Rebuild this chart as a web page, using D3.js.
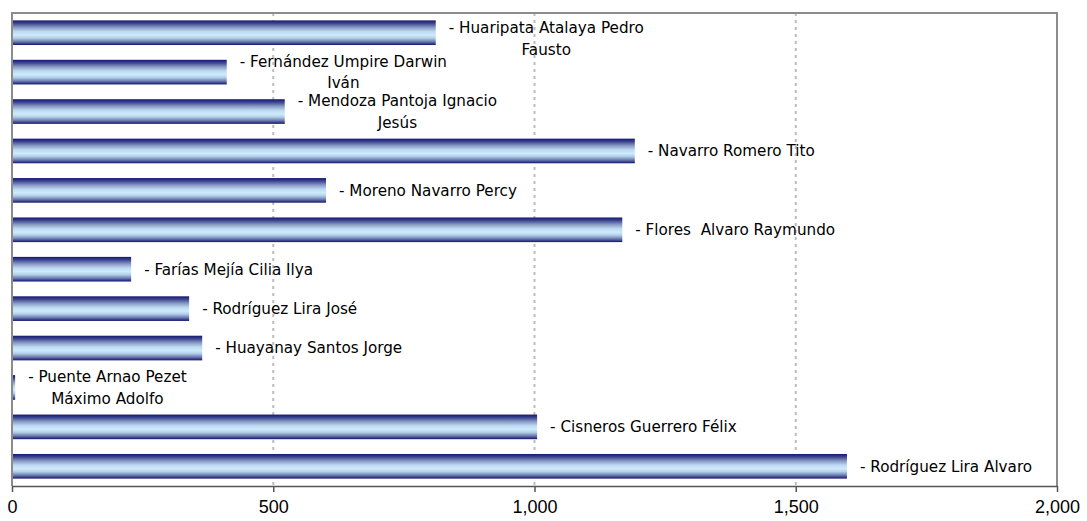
<!DOCTYPE html>
<html>
<head>
<meta charset="utf-8">
<script src="https://cdn.jsdelivr.net/npm/d3@7"></script>
<style>
  html, body { margin: 0; padding: 0; background: #ffffff; }
  svg { display: block; }
  .lbl { white-space: pre; }
</style>
</head>
<body>
<div id="chart"></div>
<script>
// ---- data ----
const categories = [
  "Huaripata Atalaya Pedro Fausto",
  "Fernández Umpire Darwin Iván",
  "Mendoza Pantoja Ignacio Jesús",
  "Navarro Romero Tito",
  "Moreno Navarro Percy",
  "Flores  Alvaro Raymundo",
  "Farías Mejía Cilia Ilya",
  "Rodríguez Lira José",
  "Huayanay Santos Jorge",
  "Puente Arnao Pezet Máximo Adolfo",
  "Cisneros Guerrero Félix",
  "Rodríguez Lira Alvaro"
];
const values = [811, 411, 522, 1192, 601, 1168, 228, 339, 364, 6, 1005, 1598];
const labelLines = [
  ["- Huaripata Atalaya Pedro", "Fausto"],
  ["- Fernández Umpire Darwin", "Iván"],
  ["- Mendoza Pantoja Ignacio", "Jesús"],
  ["- Navarro Romero Tito"],
  ["- Moreno Navarro Percy"],
  ["- Flores  Alvaro Raymundo"],
  ["- Farías Mejía Cilia Ilya"],
  ["- Rodríguez Lira José"],
  ["- Huayanay Santos Jorge"],
  ["- Puente Arnao Pezet", "Máximo Adolfo"],
  ["- Cisneros Guerrero Félix"],
  ["- Rodríguez Lira Alvaro"]
];
const xTicks = [0, 500, 1000, 1500, 2000];

// ---- layout ----
const W = 1087, H = 521;
const plot = { left: 12, top: 13, right: 1057, bottom: 486 };

const svg = d3.select("#chart").append("svg")
  .attr("width", W).attr("height", H);

const defs = svg.append("defs");
const grad = defs.append("linearGradient")
  .attr("id", "barGrad").attr("x1", 0).attr("y1", 0).attr("x2", 0).attr("y2", 1);
[
  [0, "#16166e"],
  [0.12, "#3a4590"],
  [0.28, "#8797c0"],
  [0.45, "#bcd9f2"],
  [0.6, "#cdebfc"],
  [0.72, "#b4cfe8"],
  [0.86, "#6d7fb2"],
  [1, "#141470"]
].forEach(([o, c]) => grad.append("stop").attr("offset", o).attr("stop-color", c));

const x = d3.scaleLinear().domain([0, 2000]).range([plot.left, plot.right]);
const y = d3.scaleBand().domain(categories)
  .range([plot.top, plot.bottom])
  .paddingInner(0.375).paddingOuter(0.1875);

// gridlines
svg.append("g").selectAll("line")
  .data(xTicks.filter(t => t > 0 && t < 2000))
  .join("line")
  .attr("x1", d => x(d)).attr("x2", d => x(d))
  .attr("y1", plot.top).attr("y2", plot.bottom)
  .attr("stroke", "#bdbdbd").attr("stroke-width", 2)
  .attr("stroke-dasharray", "3,4");

// bars
svg.append("g").selectAll("rect")
  .data(categories)
  .join("rect")
  .attr("x", x(0))
  .attr("y", d => y(d))
  .attr("width", (d, i) => x(values[i]) - x(0))
  .attr("height", y.bandwidth())
  .attr("fill", "url(#barGrad)");

// plot frame (top, right, left)
svg.append("path")
  .attr("d", `M${plot.left},${plot.bottom} V${plot.top} H${plot.right} V${plot.bottom}`)
  .attr("fill", "none").attr("stroke", "#8c8c8c").attr("stroke-width", 2);

// x axis
const xAxis = d3.axisBottom(x).tickValues(xTicks)
  .tickFormat(d3.format(",")).tickSizeInner(6).tickSizeOuter(0).tickPadding(8);
const gx = svg.append("g").attr("transform", `translate(0,${plot.bottom})`).call(xAxis);
gx.select(".domain").attr("stroke", "#555").attr("stroke-width", 1.5);
gx.selectAll(".tick line").attr("stroke", "#555").attr("stroke-width", 1.5);
gx.selectAll(".tick text")
  .attr("font-family", "'Liberation Sans', Arial, sans-serif")
  .attr("font-size", 18).attr("fill", "#000");

// data labels
const fontSize = 15.2, lineH = 21.5, gap = 13;
const lg = svg.append("g")
  .attr("font-family", "'DejaVu Sans', Verdana, sans-serif")
  .attr("font-size", fontSize).attr("fill", "#000");

categories.forEach((c, i) => {
  const lines = labelLines[i];
  const t = lg.append("text").attr("class", "lbl").attr("text-anchor", "middle");
  const spans = lines.map(l => t.append("tspan").text(l));
  const widths = spans.map(s => s.node().getComputedTextLength());
  const blockW = d3.max(widths);
  const cx = x(values[i]) + gap + blockW / 2;
  const blockH = lines.length * lineH;
  let top = y(c) + y.bandwidth() / 2 - blockH / 2;
  top = Math.max(top, plot.top + 4);
  spans.forEach((s, k) => {
    s.attr("x", cx).attr("y", top + lineH * k + lineH / 2).attr("dy", "0.35em");
  });
});
</script>
</body>
</html>
